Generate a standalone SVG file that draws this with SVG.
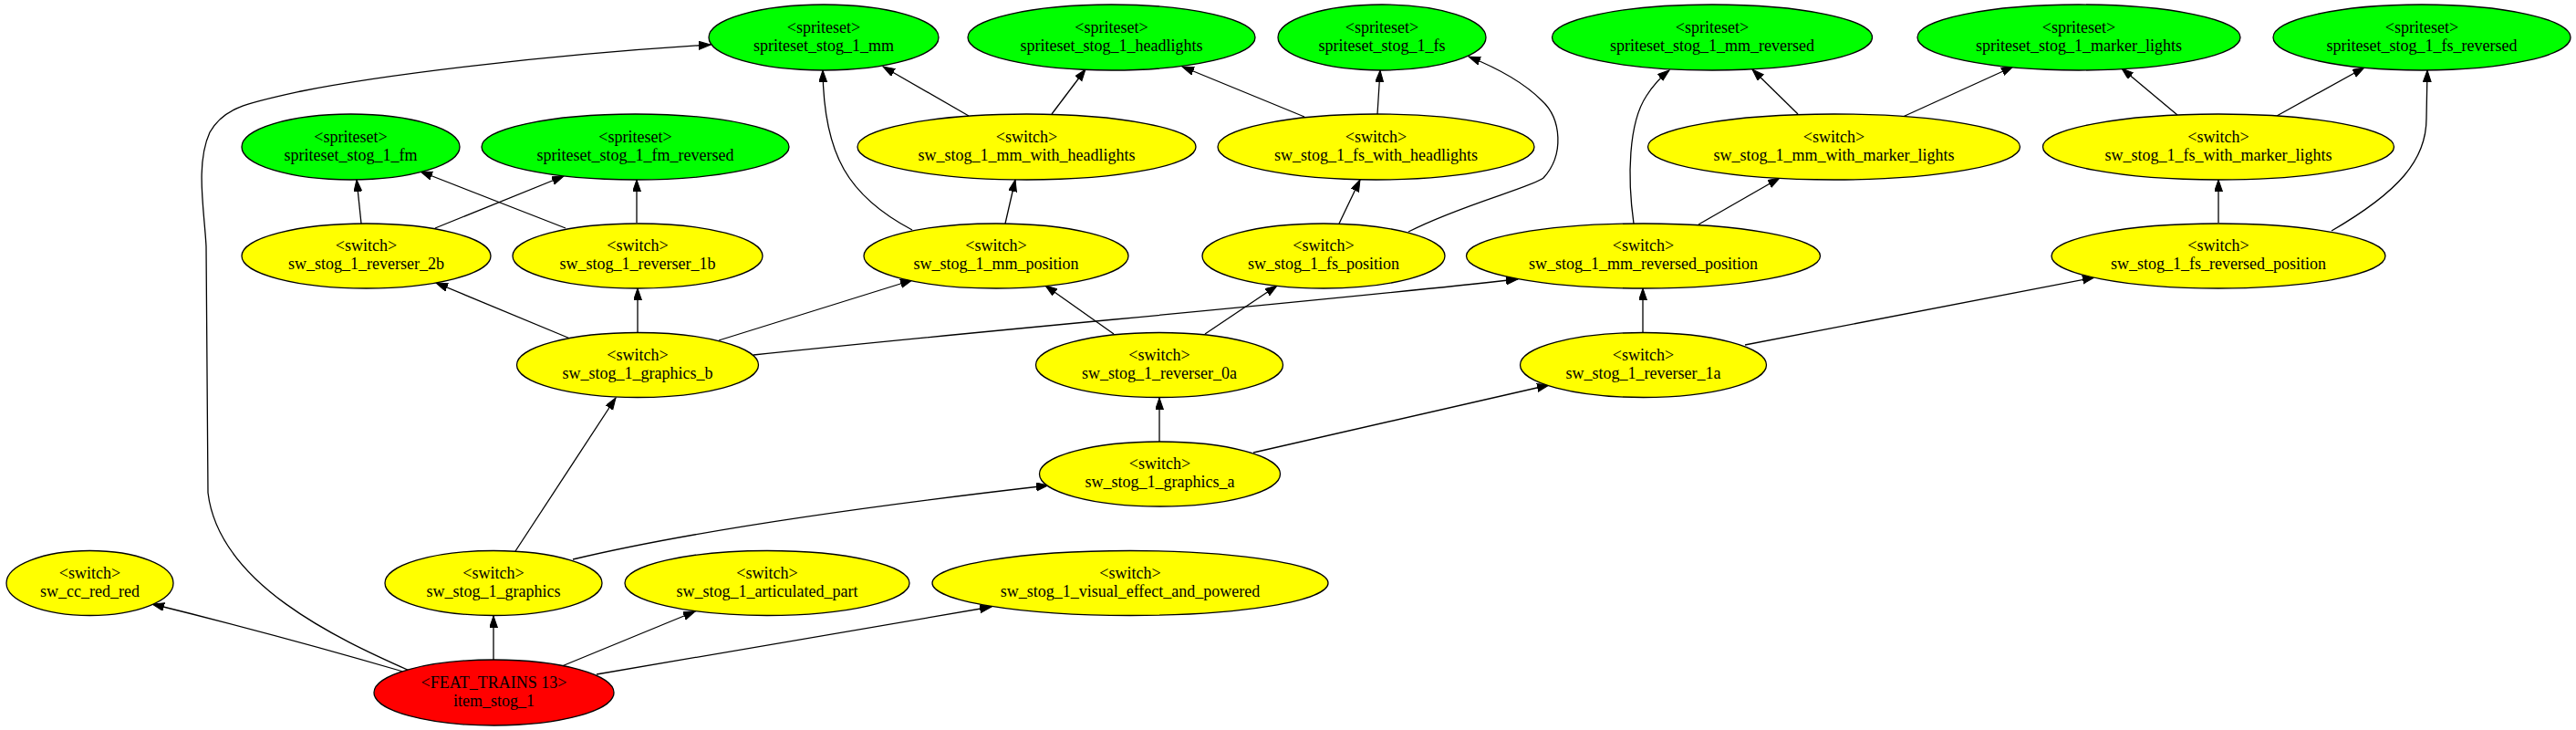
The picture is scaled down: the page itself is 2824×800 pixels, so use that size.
<svg xmlns="http://www.w3.org/2000/svg" width="2824" height="800" viewBox="0 0 2824 800">
<style>
.n ellipse{stroke:#000;stroke-width:1.3}
.g ellipse{fill:#00ff00}
.y ellipse{fill:#ffff00}
.r ellipse{fill:#ff0000}
text{font-family:"Liberation Serif","Times New Roman",serif;font-size:18px;text-anchor:middle;fill:#000}
#edges path{fill:none;stroke:#000;stroke-width:1.3;marker-end:url(#ah)}
</style>
<defs>
<marker id="ah" markerUnits="userSpaceOnUse" markerWidth="14" markerHeight="10" refX="13" refY="4.5" orient="auto">
<path d="M0,0 L13,4.5 L0,9 Z" fill="#000" stroke="#000" stroke-width="1"/>
</marker>
</defs>
<rect width="2824" height="800" fill="#fff"/>
<g id="edges">
<path d="M442,736 C360,712 240,680 167,662"/>
<path d="M541,723 L541,675"/>
<path d="M616,730 L762,670"/>
<path d="M654,739 L1087,665"/>
<path d="M449,735 C370,700 240,640 228,540 L226,270 C224,230 214,180 230,145 C245,118 270,113 330,100 C420,82 600,60 779,49"/>
<path d="M565,604 L675,436"/>
<path d="M628,613 Q800,572 1149,532"/>
<path d="M1271,484 L1271,436"/>
<path d="M1374,496 L1698,422"/>
<path d="M625,371 L478,310"/>
<path d="M699,364 L699,316"/>
<path d="M788,373 L1000,307"/>
<path d="M826,389 C1100,360 1400,335 1664,306"/>
<path d="M1221,366 L1146,313"/>
<path d="M1321,366 L1400,313"/>
<path d="M1801,365 L1801,316"/>
<path d="M1913,378 L2296,304"/>
<path d="M396,245 L391,197"/>
<path d="M477,250 L618,193"/>
<path d="M620,250 L461,188"/>
<path d="M698,244 L698,197"/>
<path d="M1000,252 C930,215 903,170 902,77"/>
<path d="M1102,245 L1113,197"/>
<path d="M1468,245 L1491,197"/>
<path d="M1544,254 C1600,225 1680,205 1692,195 C1715,170 1712,130 1690,110 C1670,90 1640,74 1610,62"/>
<path d="M1791,245 C1784,195 1785,135 1805,105 C1812,94 1820,85 1830,77"/>
<path d="M1862,246 L1951,195"/>
<path d="M2432,244 L2432,197"/>
<path d="M2556,253 C2630,210 2660,175 2660,130 L2661,77"/>
<path d="M1062,127 L968,73"/>
<path d="M1153,125 L1190,76"/>
<path d="M1430,128 L1296,73"/>
<path d="M1510,125 L1513,77"/>
<path d="M1971,125 L1921,76"/>
<path d="M2086,128 L2207,73"/>
<path d="M2387,126 L2326,75"/>
<path d="M2496,127 L2592,74"/>
</g>
<g id="spriteset_stog_1_mm" class="n g"><ellipse cx="903" cy="41" rx="126" ry="36"/><text x="903" y="35.5">&lt;spriteset&gt;</text><text x="903" y="55.5">spriteset_stog_1_mm</text></g>
<g id="spriteset_stog_1_headlights" class="n g"><ellipse cx="1218.5" cy="41" rx="157.5" ry="36"/><text x="1218.5" y="35.5">&lt;spriteset&gt;</text><text x="1218.5" y="55.5">spriteset_stog_1_headlights</text></g>
<g id="spriteset_stog_1_fs" class="n g"><ellipse cx="1515" cy="41" rx="114" ry="36"/><text x="1515" y="35.5">&lt;spriteset&gt;</text><text x="1515" y="55.5">spriteset_stog_1_fs</text></g>
<g id="spriteset_stog_1_mm_reversed" class="n g"><ellipse cx="1877" cy="41" rx="175.5" ry="36"/><text x="1877" y="35.5">&lt;spriteset&gt;</text><text x="1877" y="55.5">spriteset_stog_1_mm_reversed</text></g>
<g id="spriteset_stog_1_marker_lights" class="n g"><ellipse cx="2279" cy="41" rx="177" ry="36"/><text x="2279" y="35.5">&lt;spriteset&gt;</text><text x="2279" y="55.5">spriteset_stog_1_marker_lights</text></g>
<g id="spriteset_stog_1_fs_reversed" class="n g"><ellipse cx="2655" cy="41" rx="163" ry="36"/><text x="2655" y="35.5">&lt;spriteset&gt;</text><text x="2655" y="55.5">spriteset_stog_1_fs_reversed</text></g>
<g id="spriteset_stog_1_fm" class="n g"><ellipse cx="384.5" cy="161" rx="119.5" ry="36"/><text x="384.5" y="155.5">&lt;spriteset&gt;</text><text x="384.5" y="175.5">spriteset_stog_1_fm</text></g>
<g id="spriteset_stog_1_fm_reversed" class="n g"><ellipse cx="696.5" cy="161" rx="168.5" ry="36"/><text x="696.5" y="155.5">&lt;spriteset&gt;</text><text x="696.5" y="175.5">spriteset_stog_1_fm_reversed</text></g>
<g id="sw_stog_1_mm_with_headlights" class="n y"><ellipse cx="1125.5" cy="161" rx="185.5" ry="36"/><text x="1125.5" y="155.5">&lt;switch&gt;</text><text x="1125.5" y="175.5">sw_stog_1_mm_with_headlights</text></g>
<g id="sw_stog_1_fs_with_headlights" class="n y"><ellipse cx="1508.5" cy="161" rx="173.5" ry="36"/><text x="1508.5" y="155.5">&lt;switch&gt;</text><text x="1508.5" y="175.5">sw_stog_1_fs_with_headlights</text></g>
<g id="sw_stog_1_mm_with_marker_lights" class="n y"><ellipse cx="2010.5" cy="161" rx="204" ry="36"/><text x="2010.5" y="155.5">&lt;switch&gt;</text><text x="2010.5" y="175.5">sw_stog_1_mm_with_marker_lights</text></g>
<g id="sw_stog_1_fs_with_marker_lights" class="n y"><ellipse cx="2432" cy="161" rx="192.5" ry="36"/><text x="2432" y="155.5">&lt;switch&gt;</text><text x="2432" y="175.5">sw_stog_1_fs_with_marker_lights</text></g>
<g id="sw_stog_1_reverser_2b" class="n y"><ellipse cx="401.5" cy="280.5" rx="136.5" ry="35.5"/><text x="401.5" y="275">&lt;switch&gt;</text><text x="401.5" y="295">sw_stog_1_reverser_2b</text></g>
<g id="sw_stog_1_reverser_1b" class="n y"><ellipse cx="699" cy="280.5" rx="137" ry="35.5"/><text x="699" y="275">&lt;switch&gt;</text><text x="699" y="295">sw_stog_1_reverser_1b</text></g>
<g id="sw_stog_1_mm_position" class="n y"><ellipse cx="1092" cy="280.5" rx="145" ry="35.5"/><text x="1092" y="275">&lt;switch&gt;</text><text x="1092" y="295">sw_stog_1_mm_position</text></g>
<g id="sw_stog_1_fs_position" class="n y"><ellipse cx="1451" cy="280.5" rx="133" ry="35.5"/><text x="1451" y="275">&lt;switch&gt;</text><text x="1451" y="295">sw_stog_1_fs_position</text></g>
<g id="sw_stog_1_mm_reversed_position" class="n y"><ellipse cx="1801.5" cy="280.5" rx="194" ry="35.5"/><text x="1801.5" y="275">&lt;switch&gt;</text><text x="1801.5" y="295">sw_stog_1_mm_reversed_position</text></g>
<g id="sw_stog_1_fs_reversed_position" class="n y"><ellipse cx="2432" cy="280.5" rx="183" ry="35.5"/><text x="2432" y="275">&lt;switch&gt;</text><text x="2432" y="295">sw_stog_1_fs_reversed_position</text></g>
<g id="sw_stog_1_graphics_b" class="n y"><ellipse cx="699" cy="400" rx="132.5" ry="35.5"/><text x="699" y="394.5">&lt;switch&gt;</text><text x="699" y="414.5">sw_stog_1_graphics_b</text></g>
<g id="sw_stog_1_reverser_0a" class="n y"><ellipse cx="1271" cy="400" rx="135.5" ry="35.5"/><text x="1271" y="394.5">&lt;switch&gt;</text><text x="1271" y="414.5">sw_stog_1_reverser_0a</text></g>
<g id="sw_stog_1_reverser_1a" class="n y"><ellipse cx="1801.5" cy="400" rx="135" ry="35.5"/><text x="1801.5" y="394.5">&lt;switch&gt;</text><text x="1801.5" y="414.5">sw_stog_1_reverser_1a</text></g>
<g id="sw_stog_1_graphics_a" class="n y"><ellipse cx="1271.5" cy="519.5" rx="132" ry="35.5"/><text x="1271.5" y="514">&lt;switch&gt;</text><text x="1271.5" y="534">sw_stog_1_graphics_a</text></g>
<g id="sw_cc_red_red" class="n y"><ellipse cx="98.5" cy="639" rx="91.5" ry="35.5"/><text x="98.5" y="633.5">&lt;switch&gt;</text><text x="98.5" y="653.5">sw_cc_red_red</text></g>
<g id="sw_stog_1_graphics" class="n y"><ellipse cx="541" cy="639" rx="119" ry="35.5"/><text x="541" y="633.5">&lt;switch&gt;</text><text x="541" y="653.5">sw_stog_1_graphics</text></g>
<g id="sw_stog_1_articulated_part" class="n y"><ellipse cx="841" cy="639" rx="156" ry="35.5"/><text x="841" y="633.5">&lt;switch&gt;</text><text x="841" y="653.5">sw_stog_1_articulated_part</text></g>
<g id="sw_stog_1_visual_effect_and_powered" class="n y"><ellipse cx="1239" cy="639" rx="217" ry="35.5"/><text x="1239" y="633.5">&lt;switch&gt;</text><text x="1239" y="653.5">sw_stog_1_visual_effect_and_powered</text></g>
<g id="item_stog_1" class="n r"><ellipse cx="541.5" cy="759" rx="131.5" ry="36"/><text x="541.5" y="753.5">&lt;FEAT_TRAINS 13&gt;</text><text x="541.5" y="773.5">item_stog_1</text></g>
</svg>
